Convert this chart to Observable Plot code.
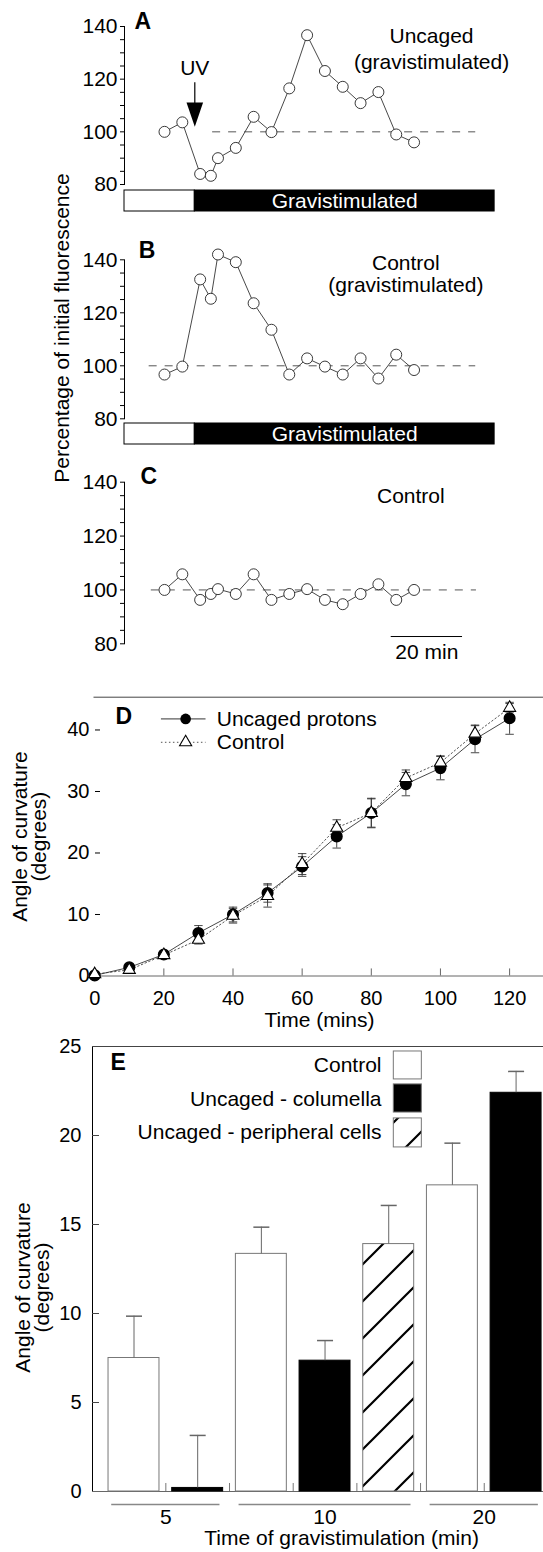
<!DOCTYPE html>
<html><head><meta charset="utf-8">
<script src="https://cdn.jsdelivr.net/npm/d3@7"></script>
<script src="https://cdn.jsdelivr.net/npm/@observablehq/plot@0.6"></script>
<style>
body{margin:0;background:#fff;}
#fig{position:relative;width:543px;height:1552px;overflow:hidden;background:#fff;font-family:"Liberation Sans",Arial,Helvetica,sans-serif;}
.ylab{position:absolute;white-space:nowrap;font-size:21px;line-height:1;transform:translate(-50%,-50%) rotate(-90deg);color:#000;}
</style></head><body><div id="fig"></div>
<script>
// ---------------- DATA ----------------
// Panels A-C: percentage of initial fluorescence vs time (min)
const timesABC = [0, 5, 10, 13, 15, 20, 25, 30, 35, 40, 45, 50, 55, 60, 65, 70];
const uncagedGravistimulated = [100, 103.6, 84.0, 83.3, 90.0, 93.9, 105.7, 99.9, 116.5, 136.7, 123.1, 117.1, 110.9, 115.1, 99.0, 96.0];
const controlGravistimulated = [96.7, 99.7, 132.6, 125.3, 142.0, 139.1, 123.6, 113.6, 96.7, 102.8, 99.7, 96.7, 102.8, 95.2, 104.2, 98.4];
const controlUnstimulated = [100, 105.8, 96.3, 98.5, 100.3, 98.5, 105.8, 96.3, 98.5, 100.3, 96.3, 94.7, 98.5, 102.1, 96.3, 100];
const fluorTicks = [80, 100, 120, 140];
const baselineFluor = 100;
const uvTime = 8.5;
const gravistimulationEnd = 92.6;
const scaleBarMinutes = 20;

// Panel D: angle of curvature vs time
const timesD = [0, 10, 20, 30, 40, 50, 60, 70, 80, 90, 100, 110, 120];
const uncagedProtons = [0.1, 1.4, 3.5, 7.0, 10.0, 13.5, 17.8, 22.7, 26.5, 31.2, 33.8, 38.5, 41.9];
const uncagedProtonsErr = [0.3, 0.4, 0.5, 1.2, 1.2, 1.5, 1.6, 1.9, 2.3, 1.9, 1.9, 2.2, 2.6];
const controlD = [0.3, 1.0, 3.4, 5.9, 9.8, 13.0, 18.2, 24.1, 26.5, 32.2, 34.7, 39.4, 43.6];
const controlDErr = [0.3, 0.5, 0.5, 0.7, 1.2, 1.8, 1.7, 1.3, 2.4, 1.3, 1.1, 1.4, 0.7];
const timeTicksD = [0, 20, 40, 60, 80, 100, 120];
const angleTicksD = [0, 10, 20, 30, 40];

// Panel E: angle of curvature vs time of gravistimulation
const gravTimes = ["5", "10", "20"];
const treatments = ["Control", "Uncaged - columella", "Uncaged - peripheral cells"];
const controlE = [7.5, 13.35, 17.2];
const controlEErr = [2.35, 1.5, 2.37];
const columellaE = [0.2, 7.35, 22.4];
const columellaEErr = [2.95, 1.13, 1.2];
const peripheralE = [null, 13.9, null];
const peripheralEErr = [null, 2.17, null];
const angleTicksE = [0, 5, 10, 15, 20, 25];

// ---------------- LAYOUT ----------------
const W = 543;
const fig = document.getElementById("fig");
const FONT = '"Liberation Sans", Arial, Helvetica, sans-serif';
function place(el, top, fs) {
  el.style.position = "absolute"; el.style.left = "0px"; el.style.top = top + "px";
  el.style.background = "transparent"; el.style.overflow = "visible";
  el.style.fontFamily = FONT; el.style.fontSize = fs + "px"; el.style.maxWidth = "none";
  fig.appendChild(el);
}
const arrowHead = {draw(ctx) { ctx.moveTo(0, 0); ctx.lineTo(-8.3, -24.4); ctx.lineTo(8.3, -24.4); ctx.closePath(); }};
const capD = {draw(ctx) { ctx.moveTo(-4.2, 0); ctx.lineTo(4.2, 0); }};
const capE = {draw(ctx) { ctx.moveTo(-8, 0); ctx.lineTo(8, 0); }};

// shared time scale for A-C
const AX_LEFT = 124, T0_PX = 164, PX_PER_MIN = 3.565;
const xMinABC = (AX_LEFT - T0_PX) / PX_PER_MIN;
const xABC = {domain: [xMinABC, (W - T0_PX) / PX_PER_MIN], axis: null};
const yABC = {domain: [80, 140], ticks: d3.range(80, 141, 5), tickFormat: d => fluorTicks.includes(d) ? String(d) : "",
  tickSize: 4, tickPadding: 3, line: true, label: null};
const toRows = vals => timesABC.map((t, i) => ({t, v: vals[i]}));

function seriesMarks(rows, dashFrom, dashTo) {
  return [
    Plot.ruleY([baselineFluor], {x1: dashFrom, x2: dashTo, stroke: "#555", strokeDasharray: "8,8", strokeWidth: 1}),
    Plot.line(rows, {x: "t", y: "v", stroke: "#333", strokeWidth: 0.9}),
    Plot.dot(rows, {x: "t", y: "v", r: 5.5, fill: "white", stroke: "#222", strokeWidth: 0.9})
  ];
}
const letter = (ch, x, y) => Plot.text([ch], {x, y, text: d => d, textAnchor: "start", fontWeight: "bold", fontSize: 23});

// Panel A
const svgA = Plot.plot({
  width: W, height: 200, marginTop: 26, marginBottom: 16, marginLeft: AX_LEFT, marginRight: 0,
  x: xABC, y: yABC,
  marks: [
    ...seriesMarks(toRows(uncagedGravistimulated), 13.5, 87.3),
    Plot.ruleX([uvTime], {x: d => d, y1: 118.6, y2: 110.5, stroke: "black", strokeWidth: 1.2}),
    Plot.dot([uvTime], {x: d => d, y: 101.9, symbol: arrowHead, fill: "black", stroke: "none"}),
    Plot.text(["UV"], {x: uvTime, y: 124.1, text: d => d, fontSize: 21}),
    letter("A", -8.4, 141.8),
    Plot.text(["Uncaged\n(gravistimulated)"], {x: 74.9, y: 131.8, text: d => d, fontSize: 21, lineHeight: 1.23})
  ]
});
place(svgA, 0, 21);

function gravBar(top) {
  const pre = {start: xMinABC, end: uvTime};
  const grav = {start: uvTime, end: gravistimulationEnd, label: "Gravistimulated"};
  const el = Plot.plot({
    width: W, height: 23, marginTop: 1, marginBottom: 1, marginLeft: AX_LEFT, marginRight: 0,
    x: xABC,
    marks: [
      Plot.barX([pre], {x1: "start", x2: "end", fill: "white", stroke: "black", strokeWidth: 1}),
      Plot.barX([grav], {x1: "start", x2: "end", fill: "black", stroke: "black"}),
      Plot.text([grav], {x: d => (d.start + d.end) / 2, text: "label", fill: "white", fontSize: 21})
    ]
  });
  place(el, top, 21);
}
gravBar(189);

// Panel B
const svgB = Plot.plot({
  width: W, height: 210, marginTop: 34.3, marginBottom: 16.7, marginLeft: AX_LEFT, marginRight: 0,
  x: xABC, y: yABC,
  marks: [
    ...seriesMarks(toRows(controlGravistimulated), -4.3, 87.3),
    letter("B", -7.2, 143.3),
    Plot.text(["Control\n(gravistimulated)"], {x: 67.7, y: 134.6, text: d => d, fontSize: 21, lineHeight: 1.05})
  ]
});
place(svgB, 225, 21);
gravBar(422);

// Panel C
const svgC = Plot.plot({
  width: W, height: 215, marginTop: 26.7, marginBottom: 26.7, marginLeft: AX_LEFT, marginRight: 0,
  x: xABC, y: yABC,
  marks: [
    ...seriesMarks(toRows(controlUnstimulated), -3.7, 87.5),
    letter("C", -6.7, 141.9),
    Plot.text(["Control"], {x: 69.1, y: 134.7, text: d => d, fontSize: 21}),
    Plot.ruleY([scaleBarMinutes], {y: 82.7, x1: 63.6, x2: d => 63.6 + d, stroke: "black", strokeWidth: 1}),
    Plot.text([scaleBarMinutes], {x: d => 63.6 + d / 2, y: 76.9, text: d => `${d} min`, fontSize: 21})
  ]
});
place(svgC, 455, 21);

const yl = document.createElement("div");
yl.className = "ylab"; yl.style.left = "61px"; yl.style.top = "328px";
yl.textContent = "Percentage of initial fluorescence";
fig.appendChild(yl);

// Panel D
const D_T0 = 94.2, D_PPM = 3.4575, D_LEFT = 100;
const rowsU = timesD.map((t, i) => ({t, v: uncagedProtons[i], e: uncagedProtonsErr[i]}));
const rowsC = timesD.map((t, i) => ({t, v: controlD[i], e: controlDErr[i]}));
const capsOf = rows => rows.flatMap(d => [{t: d.t, v: d.v - d.e}, {t: d.t, v: d.v + d.e}]);
const legendD = [
  {label: "Uncaged protons", y: 41.8},
  {label: "Control", y: 38.0}
];
const svgD = Plot.plot({
  width: W, height: 345, marginTop: 6.7, marginBottom: 59.5, marginLeft: D_LEFT, marginRight: 0,
  x: {domain: [(D_LEFT - D_T0) / D_PPM, (W - D_T0) / D_PPM], ticks: timeTicksD, tickSize: 0, tickPadding: 15, label: null},
  y: {domain: [0, 45.33], ticks: angleTicksD, tickSize: 5, tickPadding: 6, label: null},
  marks: [
    Plot.ruleY([45.33], {x1: -0.2, x2: 131, stroke: "#444"}),
    Plot.ruleY([0], {x1: -1.7, x2: 131, stroke: "#666"}),
    Plot.ruleX(timeTicksD, {y1: 0, y2: 1.15, stroke: "#666"}),
    Plot.ruleX(rowsU, {x: "t", y1: d => d.v - d.e, y2: d => d.v + d.e, stroke: "#333", strokeWidth: 0.9}),
    Plot.ruleX(rowsC, {x: "t", y1: d => d.v - d.e, y2: d => d.v + d.e, stroke: "#333", strokeWidth: 0.9}),
    Plot.dot(capsOf(rowsU).concat(capsOf(rowsC)), {x: "t", y: "v", symbol: capD, fill: "none", stroke: "#333", strokeWidth: 0.9}),
    Plot.line(rowsC, {x: "t", y: "v", stroke: "#555", strokeDasharray: "1.5,2.5", strokeWidth: 1}),
    Plot.line(rowsU, {x: "t", y: "v", stroke: "#333", strokeWidth: 0.9}),
    Plot.dot(rowsU, {x: "t", y: "v", r: 5.3, fill: "black", stroke: "black"}),
    Plot.dot(rowsC, {x: "t", y: "v", symbol: "triangle", r: 4.5, fill: "white", stroke: "black", strokeWidth: 1.1}),
    // legend
    Plot.ruleY([legendD[0]], {y: "y", x1: 19.3, x2: 32.2, stroke: "#333", strokeWidth: 1}),
    Plot.ruleY([legendD[1]], {y: "y", x1: 19.3, x2: 32.2, stroke: "#555", strokeDasharray: "1.5,2.5"}),
    Plot.dot([legendD[0]], {x: 26.3, y: "y", r: 5.3, fill: "black"}),
    Plot.dot([legendD[1]], {x: 26.3, y: "y", symbol: "triangle", r: 4.5, fill: "white", stroke: "black", strokeWidth: 1.1}),
    Plot.text(legendD, {x: 35.3, y: "y", text: "label", textAnchor: "start", fontSize: 21}),
    letter("D", 6.0, 42.2),
    Plot.text(["Angle of curvature"], {x: -21.6, y: 22.66, text: d => d, rotate: -90, fontSize: 21}),
    Plot.text(["(degrees)"], {x: -16.0, y: 22.66, text: d => d, rotate: -90, fontSize: 21}),
    Plot.text(["Time (mins)"], {x: 65, y: -7.15, text: d => d, fontSize: 21})
  ]
});
place(svgD, 690, 20);

// Panel E
const valsE = [controlE, columellaE, peripheralE];
const errsE = [controlEErr, columellaEErr, peripheralEErr];
const bars = [];
let slot = 0;
gravTimes.forEach((g, gi) => treatments.forEach((s, si) => {
  const v = valsE[si][gi];
  if (v == null) return;
  bars.push({group: g, series: s, value: v, err: errsE[si][gi], slot: slot++});
}));
const groupsE = gravTimes.map(g => {
  const b = bars.filter(d => d.group === g);
  return {label: g, from: d3.min(b, d => d.slot) - 0.35, to: d3.max(b, d => d.slot) + 0.35};
});
const gaps = d3.range(bars.length - 1).map(i => i + 0.5);
const E_X0 = 133.5, E_STEP = 63.68, E_LEFT = 92;
const xMinE = (E_LEFT - E_X0) / E_STEP;
const swatches = [
  {series: treatments[0], y1: 23.15, y2: 24.72, ty: 23.93, fill: "white", stroke: "#777"},
  {series: treatments[1], y1: 21.29, y2: 22.87, ty: 22.02, fill: "black", stroke: "black"},
  {series: treatments[2], y1: 19.33, y2: 20.96, ty: 20.17, fill: "url(#hatchE)", stroke: "#777"}
];
const barMark = (i) => Plot.rect(bars.filter(d => d.series === treatments[i]), {
  x1: d => d.slot - 0.4, x2: d => d.slot + 0.4, y1: 0, y2: "value",
  fill: swatches[i].fill, stroke: swatches[i].stroke, strokeWidth: 1
});
const svgE = Plot.plot({
  width: W, height: 517, marginTop: 11, marginBottom: 61, marginLeft: E_LEFT, marginRight: 0,
  x: {domain: [xMinE, (W - E_X0) / E_STEP], axis: null},
  y: {domain: [0, 25], ticks: angleTicksE, tickSize: 0, tickPadding: 11, line: true, label: null},
  marks: [
    Plot.ruleY([25], {stroke: "#444"}),
    Plot.ruleY([0], {stroke: "#666"}),
    Plot.ruleY([5, 10, 15, 20], {x1: xMinE, x2: xMinE + 0.11, stroke: "#444"}),
    Plot.ruleX(gaps, {y1: 0, y2: 0.45, stroke: "#777"}),
    barMark(0), barMark(1), barMark(2),
    Plot.ruleX(bars, {x: "slot", y1: "value", y2: d => d.value + d.err, stroke: "#666"}),
    Plot.dot(bars, {x: "slot", y: d => d.value + d.err, symbol: capE, fill: "none", stroke: "#666"}),
    Plot.ruleY(groupsE, {y: -0.73, x1: "from", x2: "to", stroke: "#888", strokeWidth: 1.3}),
    Plot.text(groupsE, {x: d => (d.from + d.to) / 2, y: -1.46, text: "label", fontSize: 21}),
    Plot.text(["Time of gravistimulation (min)"], {x: 3.26, y: -2.64, text: d => d, fontSize: 21}),
    Plot.rect(swatches, {x1: 4.08, x2: 4.52, y1: "y1", y2: "y2", fill: d => d.fill === "white" ? "white" : "black", stroke: "#777"}),
    Plot.text(swatches, {x: 3.887, y: "ty", text: "series", textAnchor: "end", fontSize: 21}),
    letter("E", -0.369, 24.07),
    Plot.text(["Angle of curvature"], {x: -1.735, y: 11.46, text: d => d, rotate: -90, fontSize: 21}),
    Plot.text(["(degrees)"], {x: -1.437, y: 11.46, text: d => d, rotate: -90, fontSize: 21})
  ]
});
// hatch pattern
const defs = d3.select(svgE).insert("defs", ":first-child");
const pat = defs.append("pattern").attr("id", "hatchE").attr("patternUnits", "userSpaceOnUse").attr("width", 37).attr("height", 37);
pat.append("rect").attr("width", 37).attr("height", 37).attr("fill", "white");
pat.append("path").attr("d", "M-4,4L4,-4M0,37L37,0M33,41L41,33").attr("stroke", "black").attr("stroke-width", 2.2);
// apply pattern to peripheral bar and its legend swatch
d3.select(svgE).selectAll("rect").filter(function() {
  const d = d3.select(this);
  return d.attr("fill") === "url(#hatchE)";
});
place(svgE, 1035, 20);
// set legend swatch 3 to hatch
const rectGroups = svgE.querySelectorAll('g[aria-label="rect"]');
const legendGroup = rectGroups[rectGroups.length - 1];
if (legendGroup) {
  const rs = legendGroup.querySelectorAll("rect");
  if (rs[2]) rs[2].setAttribute("fill", "url(#hatchE)");
}
</script></body></html>
